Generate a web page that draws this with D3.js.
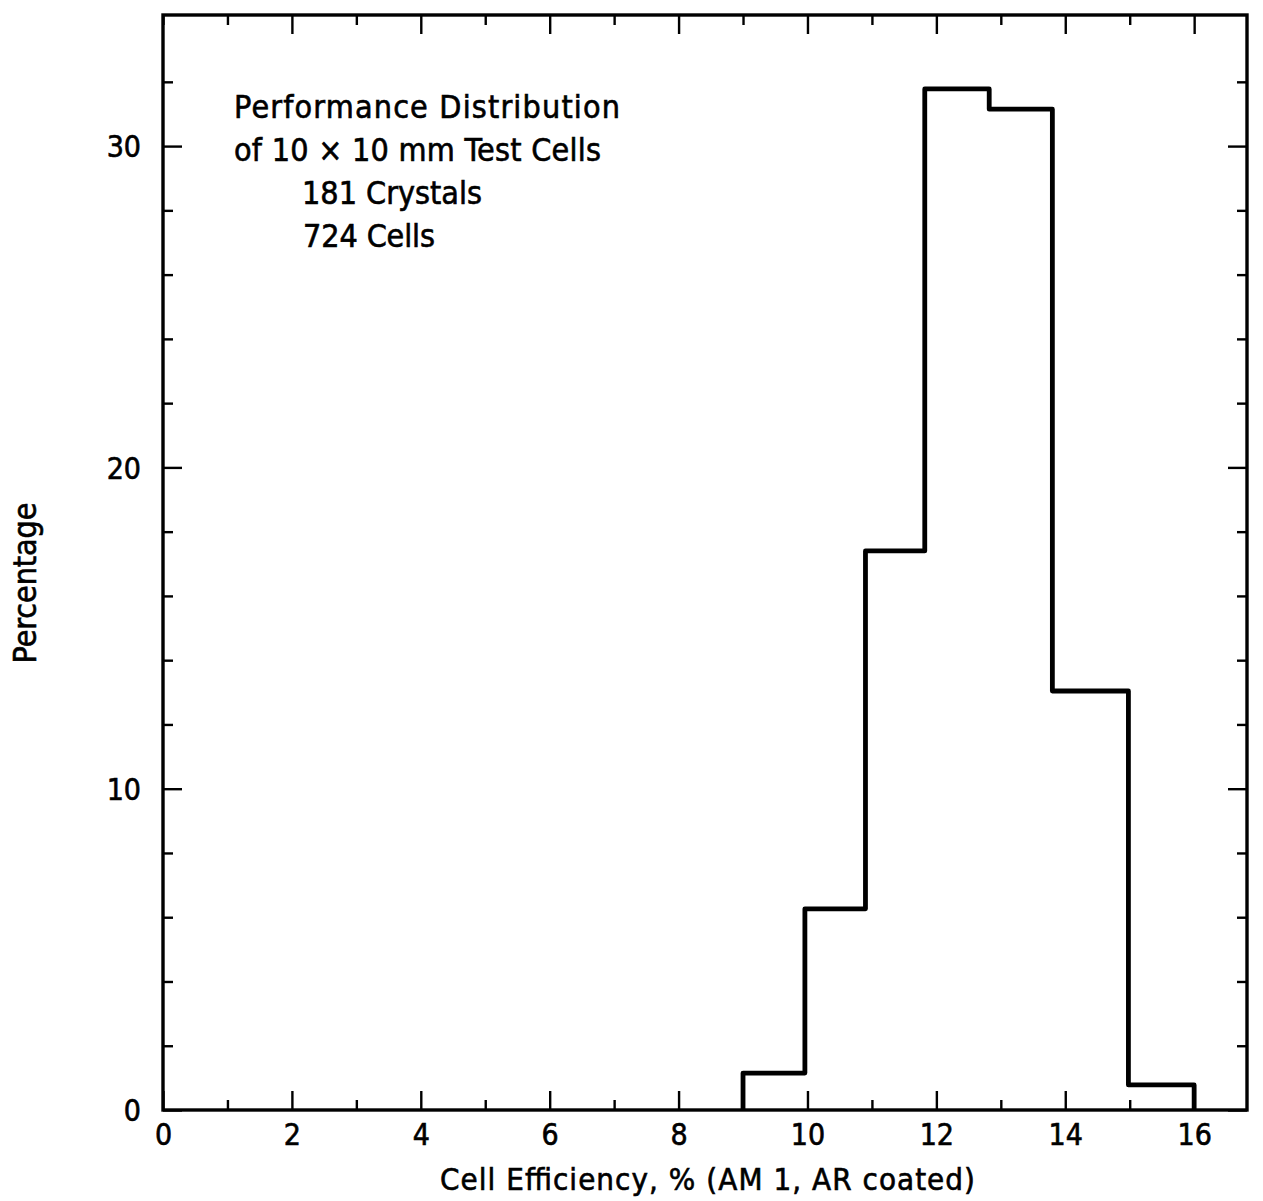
<!DOCTYPE html>
<html>
<head>
<meta charset="utf-8">
<script src="https://cdn.jsdelivr.net/npm/d3@7/dist/d3.min.js"></script>
<style>
  html, body { margin: 0; padding: 0; background: #fff; }
  svg { display: block; }
  text {
    font-family: 'Liberation Sans Narrow', 'DejaVu Sans Condensed', 'Arial Narrow', sans-serif;
    fill: #000; stroke: #000; stroke-width: 0.6px;
  }
</style>
</head>
<body>
<svg id="chart" width="1263" height="1201"></svg>
<script>
// Efficiency bin edges (% AM1, as drawn) and share of cells in each bin (%)
const binEdges = [9.0, 9.96, 10.9, 11.82, 12.82, 13.8, 14.98, 16.0];
const binPercent = [1.15, 6.26, 17.4, 31.78, 31.15, 13.04, 0.78];

// Axis ticks
const xTicks = d3.range(0, 17, 1);
const xTickLabels = [0, 2, 4, 6, 8, 10, 12, 14, 16];
const yTicks = d3.range(0, 34, 2);
const yTickLabels = [0, 10, 20, 30];

const noteLines = [
  "Performance Distribution",
  "of 10 \u00d7 10 mm Test Cells",
  "181 Crystals",
  "724 Cells"
];
const xTitle = "Cell Efficiency, % (AM 1, AR coated)";
const yTitle = "Percentage";

const svg = d3.select("#chart");
const plotLeft = 163, plotRight = 1247, plotTop = 15, plotBottom = 1110;

const x = d3.scaleLinear().domain([0, 16.82]).range([plotLeft, plotRight]);
const y = d3.scaleLinear().domain([0, 34.08]).range([plotBottom, plotTop]);

const majorLen = 19, minorLen = 10;

// Frame
svg.append("rect")
  .attr("x", plotLeft).attr("y", plotTop)
  .attr("width", plotRight - plotLeft).attr("height", plotBottom - plotTop)
  .attr("fill", "none").attr("stroke", "#000").attr("stroke-width", 3.4);

function styleAxis(g, isMajor, dir) {
  g.select(".domain").remove();
  g.selectAll(".tick line")
    .attr("stroke", "#000").attr("stroke-width", 2.4)
    .each(function (d) {
      const len = isMajor(d) ? majorLen : minorLen;
      const sel = d3.select(this);
      if (dir === "b") sel.attr("y2", -len);
      else if (dir === "t") sel.attr("y2", len);
      else if (dir === "l") sel.attr("x2", len);
      else sel.attr("x2", -len);
    });
}

// Bottom axis
const gB = svg.append("g").attr("transform", `translate(0,${plotBottom})`)
  .call(d3.axisBottom(x).tickValues(xTicks).tickSizeOuter(0)
    .tickFormat(d => xTickLabels.includes(d) ? d : ""));
styleAxis(gB, d => d % 2 === 0, "b");
gB.selectAll(".tick text")
  .attr("y", 35).attr("dy", 0)
  .style("font-size", "30px");

// Top axis
const gT = svg.append("g").attr("transform", `translate(0,${plotTop})`)
  .call(d3.axisTop(x).tickValues(xTicks).tickSizeOuter(0).tickFormat(""));
styleAxis(gT, d => d % 2 === 0 && d > 0, "t");

// Left axis
const gL = svg.append("g").attr("transform", `translate(${plotLeft},0)`)
  .call(d3.axisLeft(y).tickValues(yTicks).tickSizeOuter(0)
    .tickFormat(d => yTickLabels.includes(d) ? d : ""));
styleAxis(gL, d => d % 10 === 0, "l");
gL.selectAll(".tick text")
  .attr("x", -22).attr("dy", "0.36em")
  .style("font-size", "30px");

// Right axis
const gR = svg.append("g").attr("transform", `translate(${plotRight},0)`)
  .call(d3.axisRight(y).tickValues(yTicks).tickSizeOuter(0).tickFormat(""));
styleAxis(gR, d => d % 10 === 0, "r");

// Histogram outline as a stepped line
const pts = [[binEdges[0], 0]];
binPercent.forEach((v, i) => {
  pts.push([binEdges[i], v]);
  pts.push([binEdges[i + 1], v]);
});
pts.push([binEdges[binEdges.length - 1], 0]);

svg.append("path")
  .datum(pts)
  .attr("d", d3.line().x(d => x(d[0])).y(d => y(d[1])))
  .attr("fill", "none").attr("stroke", "#000")
  .attr("stroke-width", 4.8)
  .attr("stroke-linejoin", "round");

// Annotation block
const noteLayout = [
  { x: 234, y: 118, w: 386 },
  { x: 234, y: 161, w: 367 },
  { x: 302, y: 204, w: 180 },
  { x: 303, y: 247, w: 132 }
];
svg.append("g").selectAll("text")
  .data(noteLines)
  .join("text")
  .attr("x", (d, i) => noteLayout[i].x)
  .attr("y", (d, i) => noteLayout[i].y)
  .attr("textLength", (d, i) => noteLayout[i].w)
  .attr("lengthAdjust", "spacing")
  .style("font-size", "32px")
  .text(d => d);

// Axis titles
svg.append("text")
  .attr("x", 440).attr("y", 1190)
  .attr("textLength", 535).attr("lengthAdjust", "spacing")
  .style("font-size", "31px")
  .text(xTitle);

svg.append("text")
  .attr("transform", "translate(36,583) rotate(-90)")
  .attr("text-anchor", "middle")
  .attr("textLength", 161).attr("lengthAdjust", "spacing")
  .style("font-size", "32px")
  .text(yTitle);
</script>
</body>
</html>
